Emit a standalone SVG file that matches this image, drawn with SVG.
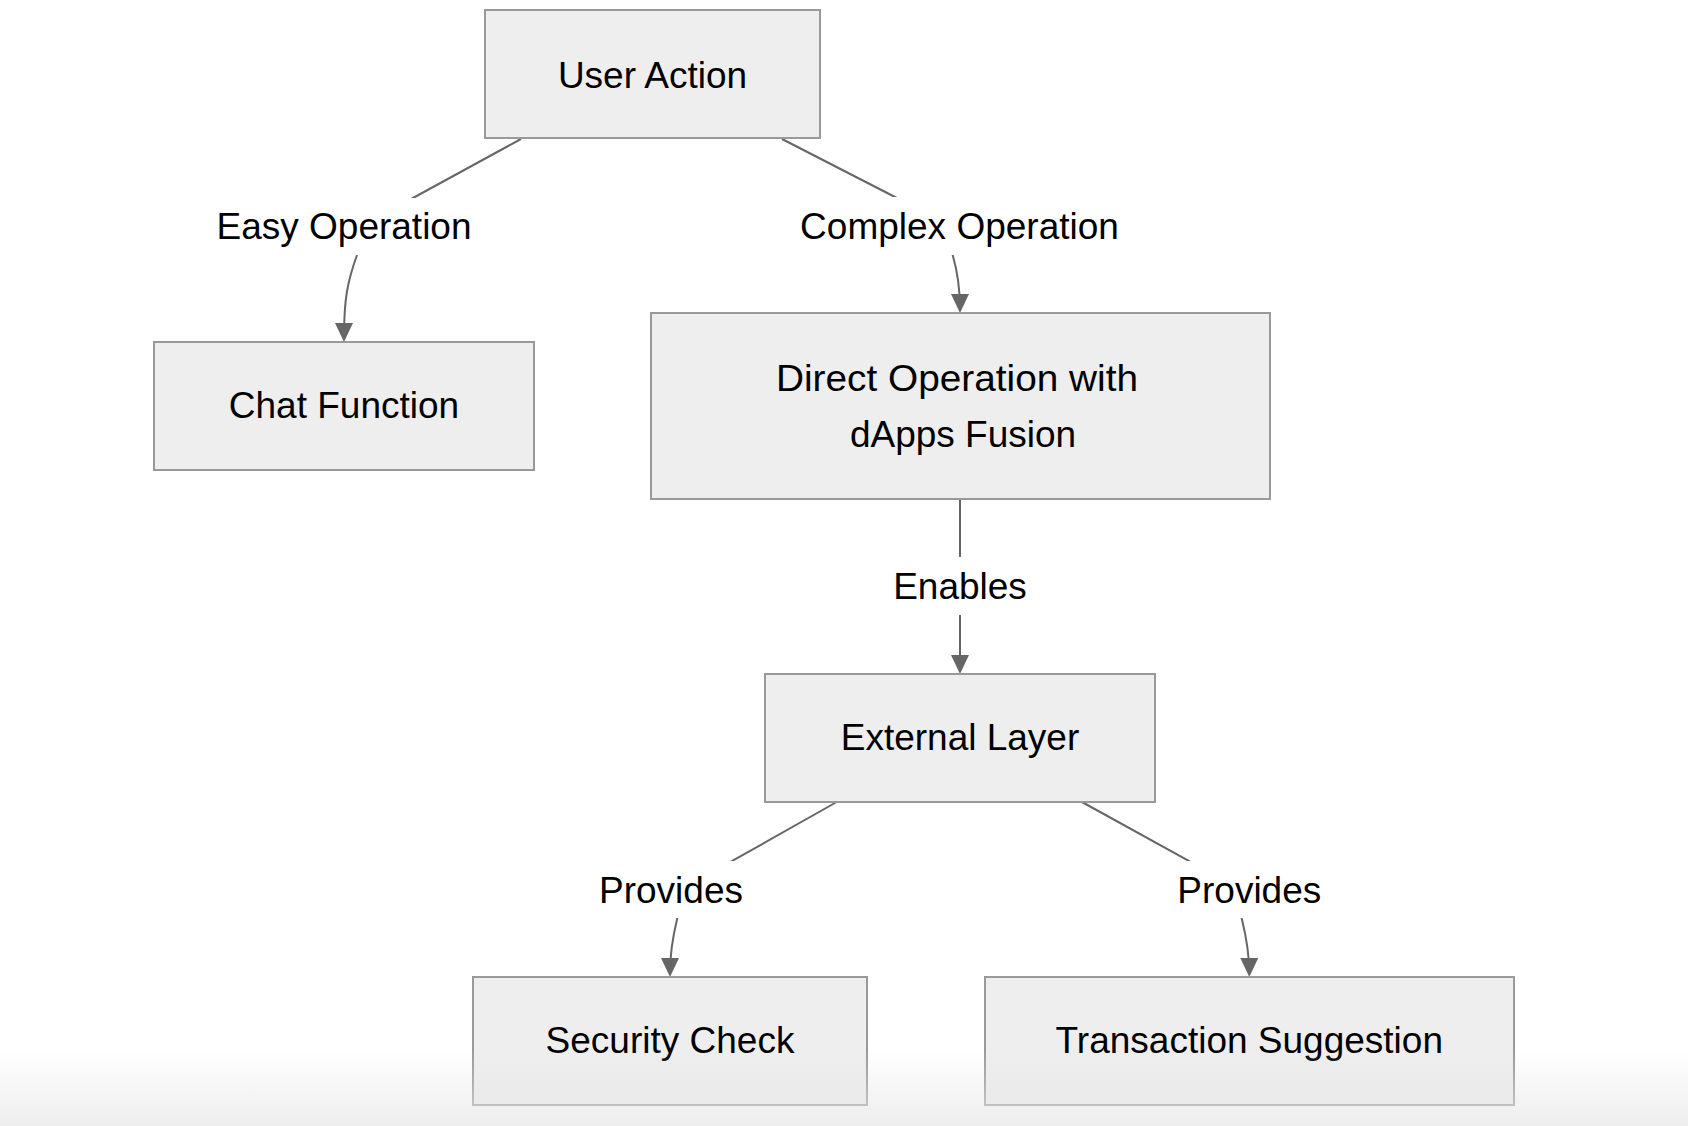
<svg xmlns="http://www.w3.org/2000/svg" width="1688" height="1126" viewBox="0 0 1688 1126">
<style>
.node rect{fill:#eeeeee;stroke:#999999;stroke-width:2}
.label{font-family:"Liberation Sans",Arial,sans-serif;font-size:37px;fill:#000000;text-anchor:middle}
.edge{fill:none;stroke:#666666;stroke-width:2}
.lbg{fill:#ffffff}
</style>
<defs>
<marker id="arrow" markerUnits="userSpaceOnUse" viewBox="0 0 10 10" preserveAspectRatio="none" markerWidth="19" markerHeight="18" refX="7.9" refY="5" orient="auto">
<path d="M0,0 L10,5 L0,10 z" fill="#666666"/>
</marker>
<linearGradient id="shade" x1="0" y1="0" x2="0" y2="1">
<stop offset="0" stop-color="#e6e6e6" stop-opacity="0"/>
<stop offset="1" stop-color="#e6e6e6" stop-opacity="0.7"/>
</linearGradient>
</defs>
<rect x="0" y="0" width="1688" height="1126" fill="#ffffff"/>
<g id="connectors">
<path class="edge" marker-end="url(#arrow)" d="M521,139 L413,198 C380,216 364,235 357,255 C347,283 344,300 344,338"/>
<path class="edge" marker-end="url(#arrow)" d="M782,139 L895,197 C920,210 946,233 952.7,255 C957,270 960,285 960,309"/>
<path class="edge" marker-end="url(#arrow)" d="M960,499 L960,670"/>
<path class="edge" marker-end="url(#arrow)" d="M836.7,802 L732.7,860.7 C705,876 684,896 677.3,918.3 C672,940 670,955 670,973"/>
<path class="edge" marker-end="url(#arrow)" d="M1082,802 L1188.3,860.7 C1215,876 1236,896 1241.7,918.3 C1247,940 1249.3,955 1249.3,973"/>
</g>
<g id="edge-labels">
<g id="label-easy"><rect class="lbg" x="218" y="198" width="252" height="57"/><text class="label" x="344" y="239">Easy Operation</text></g>
<g id="label-complex"><rect class="lbg" x="797" y="197" width="325" height="58"/><text class="label" x="959.5" y="238.5">Complex Operation</text></g>
<g id="label-enables"><rect class="lbg" x="896" y="557" width="128" height="58"/><text class="label" x="960" y="599">Enables</text></g>
<g id="label-provides-1"><rect class="lbg" x="601" y="861" width="140" height="57"/><text class="label" x="671" y="902.5">Provides</text></g>
<g id="label-provides-2"><rect class="lbg" x="1179" y="861" width="141" height="57"/><text class="label" x="1249.3" y="902.5">Provides</text></g>
</g>
<g id="node-user-action" class="node"><rect x="485" y="10" width="335" height="128"/><text class="label" x="652.5" y="88">User Action</text></g>
<g id="node-chat-function" class="node"><rect x="154" y="342" width="380" height="128"/><text class="label" x="344" y="418">Chat Function</text></g>
<g id="node-direct-operation" class="node"><rect x="651" y="313" width="619" height="186"/><text class="label"><tspan x="957" y="391" textLength="362" lengthAdjust="spacingAndGlyphs">Direct Operation with</tspan><tspan x="963" y="447">dApps Fusion</tspan></text></g>
<g id="node-external-layer" class="node"><rect x="765" y="674" width="390" height="128"/><text class="label" x="960" y="750">External Layer</text></g>
<g id="node-security-check" class="node"><rect x="473" y="977" width="394" height="128"/><text class="label" x="670" y="1053">Security Check</text></g>
<g id="node-transaction-suggestion" class="node"><rect x="985" y="977" width="529" height="128"/><text class="label" x="1249.3" y="1053">Transaction Suggestion</text></g>
<rect x="0" y="1050" width="1688" height="76" fill="url(#shade)"/>
</svg>
